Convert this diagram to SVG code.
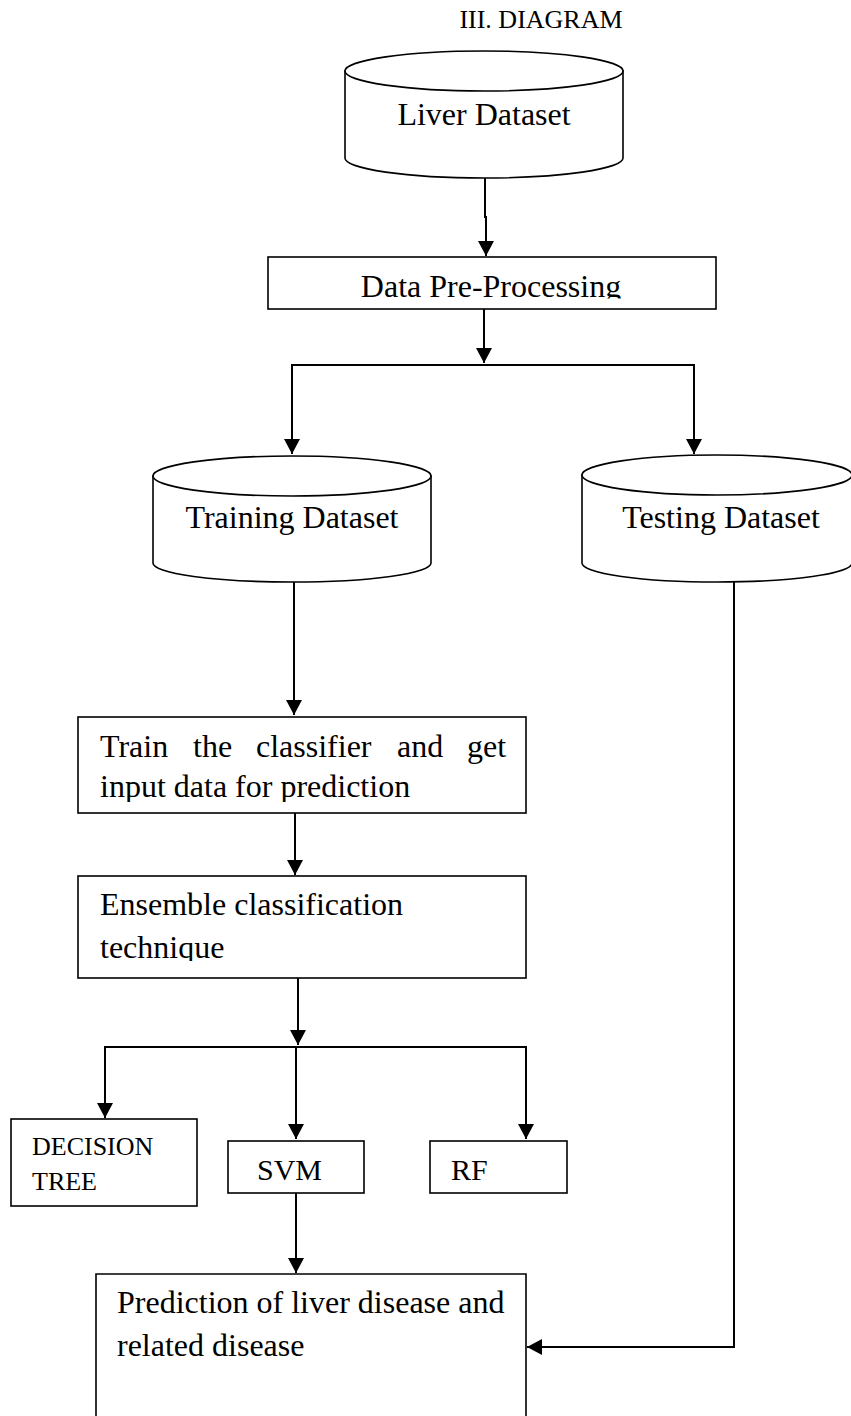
<svg xmlns="http://www.w3.org/2000/svg" width="851" height="1416" viewBox="0 0 851 1416">
<style>
.shape{fill:#fff;stroke:#000;stroke-width:1.6}
.conn{fill:none;stroke:#000;stroke-width:2}
text{font-family:"Liberation Serif","Times New Roman",serif;fill:#000}
.t32{font-size:32px}
.t30{font-size:30px}
.t26{font-size:26px}
</style>
<defs>
<marker id="ah" markerUnits="userSpaceOnUse" markerWidth="16" markerHeight="16" refX="15" refY="8" orient="auto">
<path d="M0,0 L15,8 L0,16 Z" fill="#000"/>
</marker>
<clipPath id="clipDPP"><rect x="268" y="257" width="448" height="41.5"/></clipPath>
<clipPath id="clipTrain"><rect x="78" y="717" width="448" height="85"/></clipPath>
<clipPath id="clipEns"><rect x="78" y="876" width="448" height="85"/></clipPath>
</defs>
<rect width="851" height="1416" fill="#fff"/>
<text id="title" x="541" y="28" text-anchor="middle" class="t26">III. DIAGRAM</text>

<g id="liver-dataset">
<path class="shape" d="M345,71 V158 A139,20 0 0 0 623,158 V71 Z"/>
<ellipse class="shape" cx="484" cy="71" rx="139" ry="20"/>
<text x="484" y="125" text-anchor="middle" class="t32">Liver Dataset</text>
</g>

<g id="data-preprocessing">
<rect class="shape" x="268" y="257" width="448" height="52"/>
<text x="491" y="297" text-anchor="middle" class="t32" clip-path="url(#clipDPP)">Data Pre-Processing</text>
</g>

<g id="training-dataset">
<path class="shape" d="M153,476 V563 A139,19 0 0 0 431,563 V476 Z"/>
<ellipse class="shape" cx="292" cy="476" rx="139" ry="20"/>
<text x="292" y="528" text-anchor="middle" class="t32">Training Dataset</text>
</g>

<g id="testing-dataset">
<path class="shape" d="M582,475 V563 A135,19 0 0 0 852,563 V475 Z"/>
<ellipse class="shape" cx="717" cy="475" rx="135" ry="20"/>
<text x="721" y="528" text-anchor="middle" class="t32">Testing Dataset</text>
</g>

<g id="train-classifier">
<rect class="shape" x="78" y="717" width="448" height="96"/>
<g class="t32">
<text x="100" y="757">Train</text>
<text x="193" y="757">the</text>
<text x="256" y="757">classifier</text>
<text x="397" y="757">and</text>
<text x="467" y="757">get</text>
</g>
<text x="100" y="797" class="t32" clip-path="url(#clipTrain)">input data for prediction</text>
</g>

<g id="ensemble">
<rect class="shape" x="78" y="876" width="448" height="102"/>
<text x="100" y="915" class="t32">Ensemble classification</text>
<text x="100" y="958" class="t32" clip-path="url(#clipEns)">technique</text>
</g>

<g id="decision-tree">
<rect class="shape" x="11" y="1119" width="186" height="87"/>
<text x="32" y="1155" class="t26">DECISION</text>
<text x="32" y="1190" class="t26">TREE</text>
</g>

<g id="svm">
<rect class="shape" x="228" y="1141" width="136" height="52"/>
<text x="257" y="1180" class="t30">SVM</text>
</g>

<g id="rf">
<rect class="shape" x="430" y="1141" width="137" height="52"/>
<text x="451" y="1180" class="t30">RF</text>
</g>

<g id="prediction">
<path class="shape" d="M96,1417 V1274 H526 V1417"/>
<text x="117" y="1313" class="t32">Prediction of liver disease and</text>
<text x="117" y="1356" class="t32">related disease</text>
</g>

<g id="connectors">
<path class="conn" d="M485,178 V217 H486 V256" marker-end="url(#ah)"/>
<path class="conn" d="M484,309 V363" marker-end="url(#ah)"/>
<path class="conn" d="M292,454 V365 H694 V454" />
<path class="conn" d="M292,440 V454" marker-end="url(#ah)"/>
<path class="conn" d="M694,440 V454" marker-end="url(#ah)"/>
<path class="conn" d="M294,582 V715" marker-end="url(#ah)"/>
<path class="conn" d="M295,813 V875" marker-end="url(#ah)"/>
<path class="conn" d="M298,978 V1045" marker-end="url(#ah)"/>
<path class="conn" d="M105,1118 V1047 H526 V1139"/>
<path class="conn" d="M105,1100 V1118" marker-end="url(#ah)"/>
<path class="conn" d="M526,1120 V1139" marker-end="url(#ah)"/>
<path class="conn" d="M296,1047 V1139" marker-end="url(#ah)"/>
<path class="conn" d="M296,1193 V1273" marker-end="url(#ah)"/>
<path class="conn" d="M734,582 V1347 H527" marker-end="url(#ah)"/>
</g>
</svg>
